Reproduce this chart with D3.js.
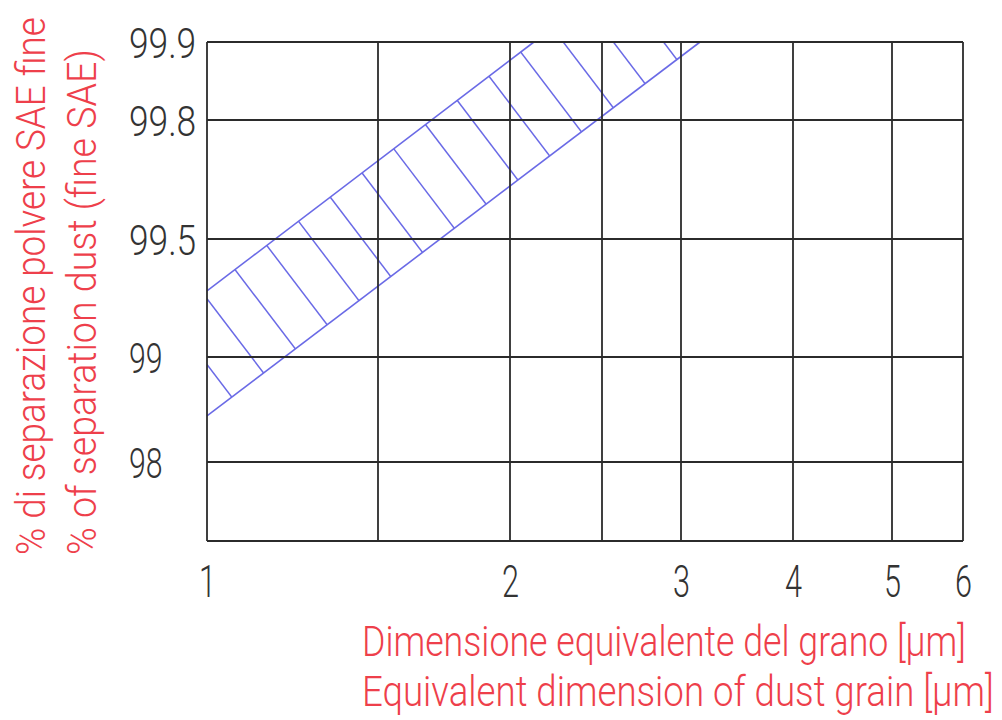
<!DOCTYPE html>
<html>
<head>
<meta charset="utf-8">
<script src="https://cdn.jsdelivr.net/npm/d3@7/dist/d3.min.js"></script>
<style>
  html, body { margin: 0; padding: 0; background: #fff; }
  svg { display: block; }
  text { font-family: Roboto, "Liberation Sans Narrow", "DejaVu Sans", sans-serif; font-weight: 300; }
</style>
</head>
<body>
<svg id="chart" width="1002" height="720"></svg>
<script>
// ---------- data ----------
const xGridValues = [1, 1.5, 2, 2.5, 3, 4, 5, 6];
const xTickValues = [1, 2, 3, 4, 5, 6];
const xTickLabels = ["1", "2", "3", "4", "5", "6"];
const yGridValues = [97, 98, 99, 99.5, 99.8, 99.9];
const yTickValues = [98, 99, 99.5, 99.8, 99.9];
const yTickLabels = ["98", "99", "99.5", "99.8", "99.9"];
// band limits (grain size µm, separation %)
const upperX = [1, 2.13];
const upperY = [99.28, 99.9];
const lowerX = [1, 3.17];
const lowerY = [98.44, 99.9];
const yTitleLines = ["% di separazione polvere SAE fine", "% of separation dust (fine SAE)"];
const xTitleLines = ["Dimensione equivalente del grano [µm]", "Equivalent dimension of dust grain [µm]"];

// ---------- layout ----------
const xStops = [207, 378, 510, 602, 681, 793, 892, 963];
const yStops = [541, 462, 357, 239, 120, 42];
const gridColor = "#2b2b2b";
const bandColor = "#6a6ae6";
const redColor = "#ee3f4b";
const tickColor = "#333333";

const svg = d3.select("#chart");
const x = d3.scaleLinear().domain(xGridValues).range(xStops);
const y = d3.scaleLinear().domain(yGridValues).range(yStops);

const plotLeft = x(xGridValues[0]), plotRight = x(xGridValues[xGridValues.length - 1]);
const plotTop = y(yGridValues[yGridValues.length - 1]), plotBottom = y(yGridValues[0]);

// narrow a text horizontally (CAD-like lettering) to an exact width
function narrowTo(node, width, pre) {
  const natural = node.getComputedTextLength();
  const sx = natural > 0 ? width / natural : 1;
  node.setAttribute("transform", `${pre || ""} scale(${sx},1)`);
}

// ---------- band (hatched) ----------
const U0 = [x(upperX[0]), y(upperY[0])], U1 = [x(upperX[1]), y(upperY[1])];
const L0 = [x(lowerX[0]), y(lowerY[0])], L1 = [x(lowerX[1]), y(lowerY[1])];

const defs = svg.append("defs");
defs.append("clipPath").attr("id", "bandClip")
  .append("polygon")
  .attr("points", [U0, U1, L1, L0].map(p => p.join(",")).join(" "));

const ux = U1[0] - U0[0], uy = U1[1] - U0[1];
const ul = Math.hypot(ux, uy);
const u = [ux / ul, uy / ul];
const n = [-u[1], u[0]];             // perpendicular, pointing down-right
const spacing = 39.9, phase = 35.2;
const hatch = [];
for (let s = phase - spacing * 3; s < 700; s += spacing) hatch.push(s);

const bandG = svg.append("g");
bandG.append("g").attr("clip-path", "url(#bandClip)")
  .selectAll("line").data(hatch).join("line")
  .attr("x1", s => U0[0] + s * u[0] - 30 * n[0])
  .attr("y1", s => U0[1] + s * u[1] - 30 * n[1])
  .attr("x2", s => U0[0] + s * u[0] + 200 * n[0])
  .attr("y2", s => U0[1] + s * u[1] + 200 * n[1])
  .attr("stroke", bandColor).attr("stroke-width", 1.5);

const line = d3.line().x(d => x(d[0])).y(d => y(d[1]));
bandG.append("path").datum(d3.zip(upperX, upperY)).attr("d", line)
  .attr("fill", "none").attr("stroke", bandColor).attr("stroke-width", 1.6);
bandG.append("path").datum(d3.zip(lowerX, lowerY)).attr("d", line)
  .attr("fill", "none").attr("stroke", bandColor).attr("stroke-width", 1.6);

// ---------- grid ----------
const grid = svg.append("g");
grid.selectAll("line.v").data(xGridValues).join("line").attr("class", "v")
  .attr("x1", d => x(d)).attr("x2", d => x(d))
  .attr("y1", plotTop).attr("y2", plotBottom)
  .attr("stroke", gridColor).attr("stroke-width", 1.8);
grid.selectAll("line.h").data(yGridValues).join("line").attr("class", "h")
  .attr("x1", plotLeft).attr("x2", plotRight)
  .attr("y1", d => y(d)).attr("y2", d => y(d))
  .attr("stroke", gridColor).attr("stroke-width", 1.8);

// ---------- axes ----------
const xAxis = svg.append("g").attr("transform", `translate(0,${plotBottom})`)
  .call(d3.axisBottom(x).tickValues(xTickValues).tickSize(0)
    .tickFormat((d, i) => xTickLabels[i]));
xAxis.select(".domain").remove();
xAxis.selectAll("text")
  .attr("y", 56).attr("dy", null)
  .attr("fill", tickColor)
  .style("font-size", "44px")
  .each(function () { narrowTo(this, 17); });

const yAxis = svg.append("g")
  .call(d3.axisLeft(y).tickValues(yTickValues).tickSize(0)
    .tickFormat((d, i) => yTickLabels[i]));
yAxis.select(".domain").remove();
yAxis.selectAll("text")
  .attr("x", 0).attr("dy", null).attr("y", 15)
  .attr("text-anchor", "start")
  .attr("fill", tickColor)
  .style("font-size", "43px")
  .each(function () { narrowTo(this, 16.8 * this.textContent.length, "translate(129,0)"); });

// ---------- titles ----------
const xTitleBase = [656, 706];
const xTitleLen = [604, 632];
svg.selectAll("text.xt").data(xTitleLines).join("text").attr("class", "xt")
  .attr("fill", redColor).style("font-size", "42px")
  .text(d => d)
  .each(function (d, i) { narrowTo(this, xTitleLen[i], `translate(362,${xTitleBase[i]})`); });

const yTitleBase = [45, 96];
const yTitleLen = [538, 506];
svg.selectAll("text.yt").data(yTitleLines).join("text").attr("class", "yt")
  .attr("fill", redColor).style("font-size", "41px")
  .text(d => d)
  .each(function (d, i) { narrowTo(this, yTitleLen[i], `translate(${yTitleBase[i]},555) rotate(-90)`); });
</script>
</body>
</html>
